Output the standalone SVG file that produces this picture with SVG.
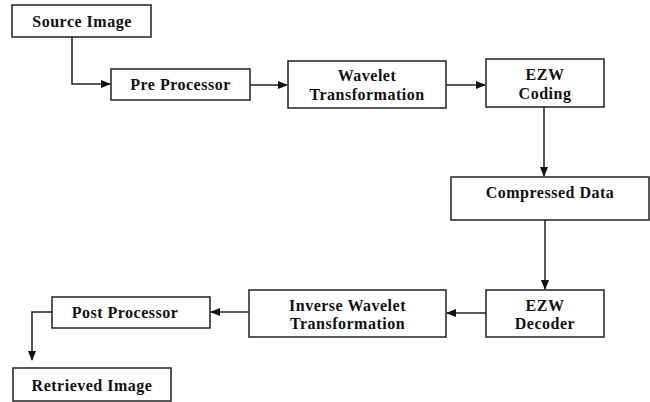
<svg xmlns="http://www.w3.org/2000/svg" width="650" height="402" viewBox="0 0 650 402">
<style>
.box{fill:#fff;stroke:#222;stroke-width:1.5}
.t{font-family:"Liberation Serif","Times New Roman",serif;font-weight:bold;font-size:16px;letter-spacing:0.5px;fill:#111;text-anchor:middle}
.c{fill:none;stroke:#222;stroke-width:1.5}
</style>
<defs>
<marker id="ah" markerWidth="10" markerHeight="8" refX="9" refY="4" orient="auto" markerUnits="userSpaceOnUse">
<path d="M0,0 L10,4 L0,8 Z" fill="#111"/>
</marker>
</defs>
<rect width="650" height="402" fill="#fff"/>
<g id="connectors">
<path class="c" d="M72,37 V84 H110" marker-end="url(#ah)"/>
<path class="c" d="M250,85 H287" marker-end="url(#ah)"/>
<path class="c" d="M446,85 H485" marker-end="url(#ah)"/>
<path class="c" d="M544,107 V176" marker-end="url(#ah)"/>
<path class="c" d="M545,220 V289" marker-end="url(#ah)"/>
<path class="c" d="M486,313 H447" marker-end="url(#ah)"/>
<path class="c" d="M249,312 H211" marker-end="url(#ah)"/>
<path class="c" d="M52,312 H32 V360" marker-end="url(#ah)"/>
</g>
<g id="source"><rect class="box" x="12" y="5" width="139" height="32"/><text class="t" x="82" y="27">Source Image</text></g>
<g id="pre"><rect class="box" x="111" y="69" width="139" height="31"/><text class="t" x="180.5" y="90">Pre Processor</text></g>
<g id="wavelet"><rect class="box" x="288" y="61" width="158" height="47"/><text class="t" x="367" y="81">Wavelet</text><text class="t" x="367" y="100">Transformation</text></g>
<g id="ezwc"><rect class="box" x="486" y="59" width="118" height="48"/><text class="t" x="545" y="80">EZW</text><text class="t" x="545" y="99">Coding</text></g>
<g id="compressed"><rect class="box" x="451" y="177" width="198" height="43"/><text class="t" x="550" y="198">Compressed Data</text></g>
<g id="ezwd"><rect class="box" x="486" y="290" width="118" height="47"/><text class="t" x="545" y="311">EZW</text><text class="t" x="545" y="329">Decoder</text></g>
<g id="inverse"><rect class="box" x="249" y="290" width="197" height="47"/><text class="t" x="347.5" y="311">Inverse Wavelet</text><text class="t" x="347.5" y="329">Transformation</text></g>
<g id="post"><rect class="box" x="52" y="297" width="158" height="31"/><text class="t" x="125" y="318">Post Processor</text></g>
<g id="retrieved"><rect class="box" x="13" y="368" width="158" height="33"/><text class="t" x="92" y="391">Retrieved Image</text></g>
</svg>
